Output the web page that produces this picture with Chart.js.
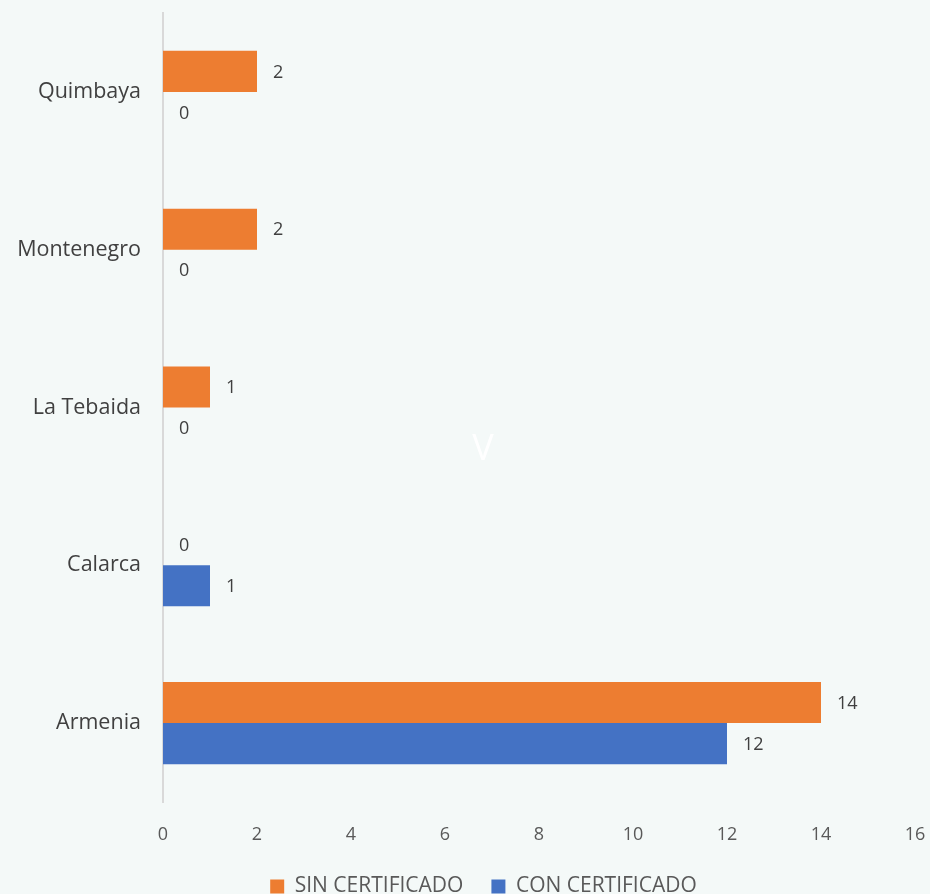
<!DOCTYPE html>
<html>
<head>
<meta charset="utf-8">
<script src="https://cdn.jsdelivr.net/npm/chart.js@4.4.0/dist/chart.umd.min.js"></script>
<style>
  html, body { margin: 0; padding: 0; background: #F4F9F8; }
  #wrap { width: 930px; height: 894px; }
</style>
</head>
<body>
<div id="wrap"><canvas id="chart"></canvas></div>
<script>
const municipios = ["Quimbaya", "Montenegro", "La Tebaida", "Calarca", "Armenia"];
const sinCertificado = [2, 2, 1, 0, 14];
const conCertificado = [0, 0, 0, 1, 12];
const xTicks = [0, 2, 4, 6, 8, 10, 12, 14, 16];

// value labels next to bar ends
const valueLabels = {
	id: "valueLabels",
	afterDatasetsDraw(chart) {
		const ctx = chart.ctx;
		ctx.save();
		ctx.font = "18px 'Open Sans'";
		ctx.fillStyle = "#404040";
		ctx.textAlign = "left";
		ctx.textBaseline = "middle";
		chart.data.datasets.forEach((ds, i) => {
			chart.getDatasetMeta(i).data.forEach((bar, j) => {
				ctx.fillText(String(ds.data[j]), bar.x + 16, bar.y + 1);
			});
		});
		ctx.restore();
	},
};

// faint white letter in the middle of the plot
const watermark = {
	id: "watermark",
	afterDraw(chart) {
		const ctx = chart.ctx;
		ctx.save();
		ctx.font = "36px 'Open Sans'";
		ctx.fillStyle = "#FFFFFF";
		ctx.textAlign = "center";
		ctx.textBaseline = "middle";
		ctx.fillText("V", 483, 450);
		ctx.restore();
	},
};

// legend sits a bit right of canvas centre in the original
const legendShift = {
	id: "legendShift",
	afterLayout(chart) {
		if (chart.legend) {
			chart.legend.left += 26;
			chart.legend.right += 26;
		}
	},
};

const ctx = document.getElementById("chart").getContext("2d");
new Chart(ctx, {
	type: "bar",
	data: {
		labels: municipios,
		datasets: [
			{
				label: "SIN CERTIFICADO",
				data: sinCertificado,
				backgroundColor: "#ED7D31",
			},
			{
				label: "CON CERTIFICADO",
				data: conCertificado,
				backgroundColor: "#4472C4",
			},
		],
	},
	options: {
		indexAxis: "y",
		animation: false,
		responsive: true,
		maintainAspectRatio: false,
		layout: { padding: { top: 13, right: 15, left: 0, bottom: -13 } },
		datasets: {
			bar: { categoryPercentage: 0.52, barPercentage: 1.0 },
		},
		scales: {
			x: {
				min: 0,
				max: 16,
				afterBuildTicks: (scale) => {
					scale.ticks = xTicks.map((v) => ({ value: v }));
				},
				grid: { display: false, drawTicks: false },
				border: { display: false },
				ticks: {
					color: "#595959",
					font: { family: "'Open Sans'", size: 18 },
					padding: 22,
				},
				afterFit: (scale) => {
					scale.height = 46;
					scale.paddingLeft = 0;
					scale.paddingRight = 0;
				},
			},
			y: {
				grid: { display: false, drawTicks: false },
				border: { display: true, color: "#D9D9D9", width: 2 },
				ticks: {
					color: "#404040",
					font: { family: "'Open Sans'", size: 21.5 },
					padding: 22,
				},
				afterFit: (scale) => {
					scale.width = 163;
					scale.paddingTop = 0;
					scale.paddingBottom = 0;
				},
			},
		},
		plugins: {
			legend: {
				position: "bottom",
				labels: {
					boxWidth: 14,
					boxHeight: 14,
					padding: 28,
					color: "#595959",
					font: { family: "'Open Sans'", size: 21 },
				},
			},
			tooltip: { enabled: false },
		},
	},
	plugins: [valueLabels, watermark, legendShift],
});
</script>
</body>
</html>
